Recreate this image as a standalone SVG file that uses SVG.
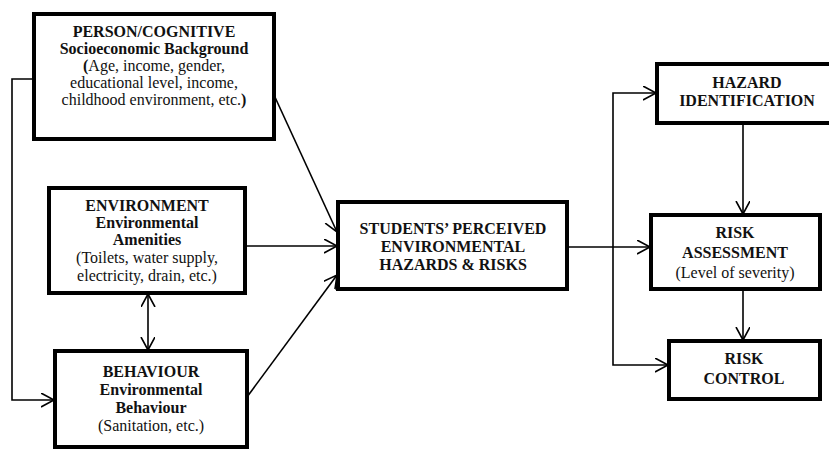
<svg xmlns="http://www.w3.org/2000/svg" width="829" height="450" viewBox="0 0 829 450">
<style>
.box{fill:#fff;stroke:#000;stroke-width:4}
.t{font-family:"Liberation Serif","Times New Roman",serif;font-size:16px;fill:#111;text-anchor:middle}
.b{font-weight:bold}
.c{fill:none;stroke:#000;stroke-width:1.6}
</style>
<defs>
<marker id="ah" markerUnits="userSpaceOnUse" markerWidth="16" markerHeight="16" refX="13" refY="7" orient="auto-start-reverse" viewBox="0 0 16 16">
<path d="M0,0 L13,7 L0,14" fill="none" stroke="#000" stroke-width="1.6"/>
</marker>
</defs>
<rect width="829" height="450" fill="#fff"/>
<g id="connectors">
<line class="c" x1="274" y1="95" x2="337" y2="232" marker-end="url(#ah)"/>
<line class="c" x1="245" y1="246" x2="337" y2="246" marker-end="url(#ah)"/>
<line class="c" x1="247" y1="397" x2="337" y2="275" marker-end="url(#ah)"/>
<polyline class="c" points="34,79 12,79 12,400 54,400" marker-end="url(#ah)"/>
<line class="c" x1="148" y1="294" x2="148" y2="350" marker-start="url(#ah)" marker-end="url(#ah)"/>
<line class="c" x1="567" y1="247" x2="650" y2="247" marker-end="url(#ah)"/>
<polyline class="c" points="656,93 613,93 613,365 668,365" marker-start="url(#ah)" marker-end="url(#ah)"/>
<line class="c" x1="743" y1="124" x2="743" y2="214" marker-end="url(#ah)"/>
<line class="c" x1="743" y1="289" x2="743" y2="340" marker-end="url(#ah)"/>
</g>
<g id="person">
<rect class="box" x="34" y="14" width="240" height="125"/>
<text class="t b" x="154" y="37">PERSON/COGNITIVE</text>
<text class="t b" x="154" y="54">Socioeconomic Background</text>
<text class="t" x="154" y="71"><tspan class="b">(</tspan>Age, income, gender,</text>
<text class="t" x="154" y="88">educational level, income,</text>
<text class="t" x="154" y="105">childhood environment, etc.<tspan class="b">)</tspan></text>
</g>
<g id="environment">
<rect class="box" x="49" y="188" width="196" height="105"/>
<text class="t b" x="147" y="211">ENVIRONMENT</text>
<text class="t b" x="147" y="228">Environmental</text>
<text class="t b" x="147" y="245">Amenities</text>
<text class="t" x="147" y="263">(Toilets, water supply,</text>
<text class="t" x="147" y="281">electricity, drain, etc.)</text>
</g>
<g id="behaviour">
<rect class="box" x="55" y="351" width="192" height="96"/>
<text class="t b" x="151" y="377">BEHAVIOUR</text>
<text class="t b" x="151" y="395">Environmental</text>
<text class="t b" x="151" y="413">Behaviour</text>
<text class="t" x="151" y="431">(Sanitation, etc.)</text>
</g>
<g id="central">
<rect class="box" x="338" y="202" width="229" height="87"/>
<text class="t b" x="453" y="234">STUDENTS’ PERCEIVED</text>
<text class="t b" x="453" y="252">ENVIRONMENTAL</text>
<text class="t b" x="453" y="270">HAZARDS &amp; RISKS</text>
</g>
<g id="hazard">
<rect class="box" x="657" y="64" width="174" height="59"/>
<text class="t b" x="747" y="88">HAZARD</text>
<text class="t b" x="747" y="106">IDENTIFICATION</text>
</g>
<g id="assessment">
<rect class="box" x="651" y="215" width="169" height="74"/>
<text class="t b" x="735" y="238">RISK</text>
<text class="t b" x="735" y="258">ASSESSMENT</text>
<text class="t" x="735" y="278">(Level of severity)</text>
</g>
<g id="control">
<rect class="box" x="669" y="341" width="151" height="58"/>
<text class="t b" x="744" y="364">RISK</text>
<text class="t b" x="744" y="384">CONTROL</text>
</g>
</svg>
